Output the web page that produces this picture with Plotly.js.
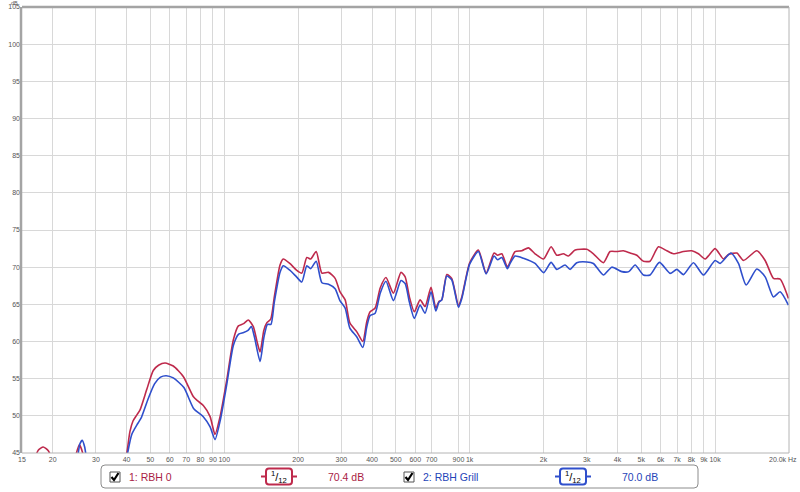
<!DOCTYPE html>
<html>
<head>
<meta charset="utf-8">
<script src="https://cdn.plot.ly/plotly-3.0.1.min.js"></script>
<style>html,body{margin:0;padding:0;background:#fff;}#chart{width:800px;height:492px;}</style>
</head>
<body>
<div id="chart"></div>
<script>
// ---- data ----
const redFreq = [15,16.5,17.5,18.3,19.2,20.5,22,24,25,25.7,26.5,27.5,29,33,37,40.1,41.3,42.5,44,45.4,48.3,51.4,54,57.4,62,68.1,74.8,78,82.2,87.6,91.7,96.2,102.4,108.9,114.2,120,125.4,131.4,136,140,145,149,154.7,160,168.8,174,185,197,207,217,225,237,250,266,283,296,311,325,347,367,381,393,412,432,456,489,525,546,568,595,628,658,696,728,750,770,807,845,900,929,1000,1085,1167,1257,1300,1352,1425,1461,1531,1630,1735,1847,2000,2147,2265,2409,2525,2690,3000,3192,3507,3733,3976,4230,4506,4797,5103,5434,5874,6357,6762,7428,8037,8553,9108,10000,10812,11331,12262,13046,14788,15990,17284,18405,19893];
const redDb = [41,43.5,45.4,45.8,45.3,43,40,42,45,46.1,45,41,37,35,39,45,47.9,49.3,50.1,50.8,53.5,56.1,56.8,57.1,56.7,55.3,52.6,52.0,51.4,49.9,47.5,49.9,54.8,60.2,62.1,62.4,62.9,62.0,60.0,58.6,61.5,62.5,63.0,66.0,70.3,71.1,70.5,69.6,69.2,71.3,71.1,72.1,69.2,69.3,68.5,66.7,65.6,62.5,61.3,60.0,62.7,64.0,64.5,67.2,68.6,66.5,69.3,68.7,66.0,64.0,65.6,64.7,67.3,64.5,65.4,65.6,69.0,68.5,64.9,66.0,70.6,72.3,69.2,71.9,71.6,71.8,70.0,70.7,72.1,72.2,72.6,71.8,71.1,72.75,71.6,71.8,71.5,72.3,72.4,71.8,70.6,72.1,72.1,72.2,71.9,71.6,70.8,70.8,72.75,72.2,71.8,72.1,72.2,71.8,71.1,72.5,71.1,71.7,71.9,70.9,72.2,70.9,68.5,68.4,65.8];

const blueFreq = [15,20,24,25.2,25.8,26.4,27.0,27.8,29,33,37,40.4,42,44.5,46,49,52,55,58,62,68.5,75,82,87.6,91.7,96.5,102.5,109,114.5,120,125,129,133,140,145,150,155,160,168.8,174,185,197,207,217,225,237,250,266,283,296,311,325,347,367,381,393,412,432,456,489,525,546,568,595,628,658,696,728,750,770,807,845,900,929,1000,1085,1167,1257,1300,1352,1425,1461,1531,1656,1847,2000,2147,2265,2448,2566,2731,3000,3192,3507,3794,4167,4450,4722,5103,5434,5931,6557,6982,7428,8159,8964,10000,10482,11586,12447,13378,14788,15990,17284,18405,19893];
const blueDb = [38,38,40,44,46.2,46.7,45.8,43,39,35,38,45,47.5,49.0,49.8,52.3,54.3,55.2,55.4,55.1,53.8,51.0,49.9,48.5,46.8,49.5,54.3,59.5,61.0,61.2,61.5,62.0,60.5,57.3,60.5,62.3,62.3,65.3,69.3,70.2,69.6,68.7,68.0,70.2,69.8,70.8,67.9,67.7,67.1,65.5,64.5,61.8,60.6,59.2,62.0,63.5,63.8,66.5,68.1,65.5,68.2,67.8,65.3,63.1,64.9,63.8,66.7,64.1,65.3,65.6,68.8,68.3,64.6,65.8,70.4,72.1,69.1,71.5,71.0,71.3,69.8,70.5,71.5,71.2,70.5,69.26,70.65,69.7,70.3,69.7,70.6,70.7,70.5,68.95,70.0,69.4,69.4,70.3,68.95,68.95,70.65,69.17,69.7,69.0,70.6,68.95,70.9,70.5,71.9,70.5,67.6,69.75,68.7,66.0,66.7,64.9];

const xTickVals = [15,20,30,40,50,60,70,80,90,100,200,300,400,500,600,700,900,1000,2000,3000,4000,5000,6000,7000,8000,9000,10000];
const xTickText = ['15','20','30','40','50','60','70','80','90','100','200','300','400','500','600','700','900','1k','2k','3k','4k','5k','6k','7k','8k','9k','10k'];
const xExtraGrid = [800];
const yTickVals = [45,50,55,60,65,70,75,80,85,90,95,100,105];

const seriesNames = ['1: RBH 0','2: RBH Grill'];
const seriesLevels = ['70.4 dB','70.0 dB'];
const smoothingLabel = '<sup>1</sup>/<sub>12</sub>';

// ---- styling ----
const RED = '#be2a4c', BLUE = '#2f4fcc';
const RED_TXT = '#a91c45', BLUE_TXT = '#2444b8';
const GRID = '#d8d8d8';
const L = 22, R = 789, T = 7, B = 453;
const px2x = p => (p - L) / (R - L);
const py2y = p => (B - p) / (B - T);

function roundRect(x0, y0, x1, y1, r) {
  const P = (a, b) => px2x(a) + ',' + py2y(b);
  return 'M' + P(x0 + r, y0) + ' L' + P(x1 - r, y0) + ' Q' + P(x1, y0) + ' ' + P(x1, y0 + r) +
    ' L' + P(x1, y1 - r) + ' Q' + P(x1, y1) + ' ' + P(x1 - r, y1) +
    ' L' + P(x0 + r, y1) + ' Q' + P(x0, y1) + ' ' + P(x0, y1 - r) +
    ' L' + P(x0, y0 + r) + ' Q' + P(x0, y0) + ' ' + P(x0 + r, y0) + ' Z';
}
function pline(x0, y0, x1, y1, color, w) {
  return {type: 'line', xref: 'paper', yref: 'paper', x0: px2x(x0), y0: py2y(y0), x1: px2x(x1), y1: py2y(y1), line: {color: color, width: w}};
}
function checkmark(cx, cy) {
  const P = (a, b) => px2x(a) + ',' + py2y(b);
  return {type: 'path', xref: 'paper', yref: 'paper',
    path: 'M' + P(cx - 3.5, cy) + ' L' + P(cx - 1, cy + 3) + ' L' + P(cx + 3.5, cy - 4),
    line: {color: '#000', width: 2.2}};
}
function ann(text, px, py, color, size, xanchor, family, yanchor) {
  return {text: text, xref: 'paper', yref: 'paper', x: px2x(px), y: py2y(py), xanchor: xanchor || 'center', yanchor: yanchor || 'middle',
    showarrow: false, font: {family: family || 'Liberation Sans, Arial, sans-serif', size: size, color: color}};
}

const traces = [
  {x: redFreq, y: redDb, type: 'scatter', mode: 'lines', line: {color: RED, width: 1.6, shape: 'spline', smoothing: 0.6}, hoverinfo: 'skip', name: seriesNames[0]},
  {x: blueFreq, y: blueDb, type: 'scatter', mode: 'lines', line: {color: BLUE, width: 1.6, shape: 'spline', smoothing: 0.6}, hoverinfo: 'skip', name: seriesNames[1]}
];

const shapes = [];
xExtraGrid.forEach(v => shapes.push({type: 'line', xref: 'x', yref: 'paper', x0: Math.log10(v), x1: Math.log10(v), y0: 0, y1: 1, layer: 'below', line: {color: GRID, width: 1}}));
shapes.push(
  // frame
  pline(L, T, R, T, '#a4a4a4', 2.5),
  pline(L - 1, T, L - 1, B, '#a4a4a4', 2.5),
  pline(R, T, R, B, '#b4b4b4', 1),
  pline(L, B, R, B, '#b4b4b4', 1),
  // legend box
  {type: 'path', xref: 'paper', yref: 'paper', path: roundRect(101, 465, 698, 488, 4), line: {color: '#8c8c8c', width: 1}, fillcolor: '#ffffff'},
  // checkboxes
  {type: 'rect', xref: 'paper', yref: 'paper', x0: px2x(110), x1: px2x(120), y0: py2y(472), y1: py2y(482), line: {color: '#555', width: 1}, fillcolor: '#fff'},
  {type: 'rect', xref: 'paper', yref: 'paper', x0: px2x(404), x1: px2x(414), y0: py2y(472), y1: py2y(482), line: {color: '#555', width: 1}, fillcolor: '#fff'},
  checkmark(115, 477),
  checkmark(409, 477),
  // smoothing icons
  pline(261, 476.5, 266, 476.5, RED, 2),
  pline(292, 476.5, 297, 476.5, RED, 2),
  {type: 'path', xref: 'paper', yref: 'paper', path: roundRect(266, 468.5, 292, 484.5, 3), line: {color: RED, width: 2}, fillcolor: '#fff'},
  pline(555, 476.5, 560, 476.5, BLUE, 2),
  pline(586, 476.5, 591, 476.5, BLUE, 2),
  {type: 'path', xref: 'paper', yref: 'paper', path: roundRect(560, 468.5, 586, 484.5, 3), line: {color: BLUE, width: 2}, fillcolor: '#fff'}
);

const annotations = [
  ann('dB', 14, -1.5, '#555', 5.5, 'center', null, 'top'),
  ann('20.0k Hz', 799, 460, '#555', 7, 'right'),
  ann(seriesNames[0], 127, 477, RED_TXT, 10.5, 'left'),
  ann(seriesNames[1], 421, 477, BLUE_TXT, 10.5, 'left'),
  ann(smoothingLabel, 279, 476.5, '#000', 11, 'center'),
  ann(smoothingLabel, 573, 476.5, '#000', 11, 'center'),
  ann(seriesLevels[0], 346, 477, RED_TXT, 10.5, 'center'),
  ann(seriesLevels[1], 640, 477, BLUE_TXT, 10.5, 'center')
];

const layout = {
  width: 800, height: 492,
  margin: {l: L, r: 800 - R, t: T, b: 492 - B, pad: 0},
  paper_bgcolor: '#ffffff', plot_bgcolor: '#ffffff',
  showlegend: false,
  xaxis: {
    type: 'log', range: [Math.log10(15), Math.log10(20000)],
    tickmode: 'array', tickvals: xTickVals, ticktext: xTickText, tickangle: 0,
    showgrid: true, gridcolor: GRID, gridwidth: 1,
    showline: false, zeroline: false, ticks: '', ticklabelstandoff: 1,
    tickfont: {family: 'Liberation Sans, Arial, sans-serif', size: 7, color: '#555'},
    fixedrange: true
  },
  yaxis: {
    range: [45, 105], tickmode: 'array', tickvals: yTickVals, tickangle: 0,
    showgrid: true, gridcolor: GRID, gridwidth: 1,
    showline: false, zeroline: false, ticks: '', ticklabelstandoff: 1,
    tickfont: {family: 'Liberation Sans, Arial, sans-serif', size: 7, color: '#555'},
    fixedrange: true
  },
  shapes: shapes,
  annotations: annotations
};

Plotly.newPlot('chart', traces, layout, {staticPlot: true, displayModeBar: false});
</script>
</body>
</html>
